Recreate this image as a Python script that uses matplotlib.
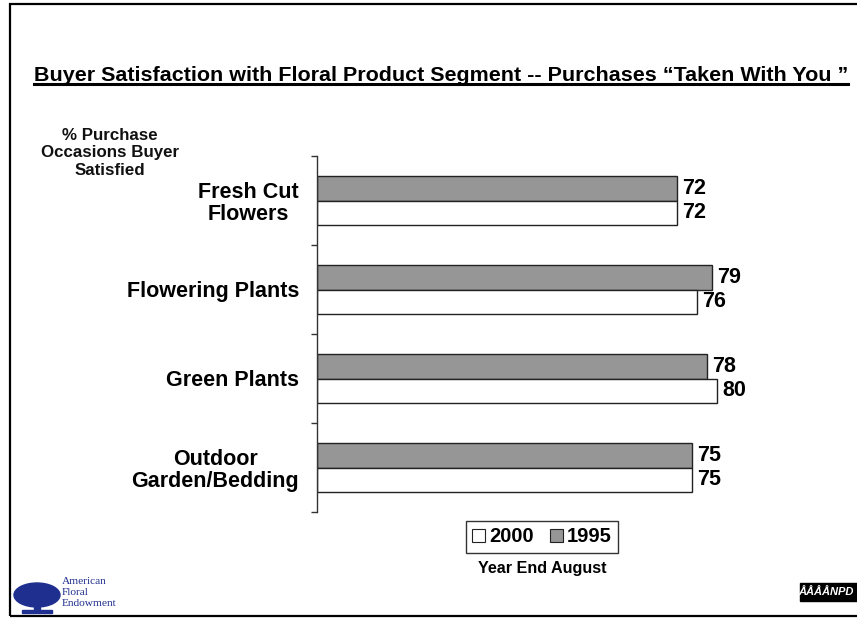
import matplotlib
matplotlib.use("Agg")
import matplotlib.pyplot as plt
from matplotlib.patches import Rectangle, Ellipse, Patch
from matplotlib.lines import Line2D
from matplotlib.ticker import FixedLocator

plt.rcParams['font.family'] = ['Liberation Sans', 'DejaVu Sans']

categories = ['Fresh Cut\nFlowers', 'Flowering Plants', 'Green Plants',
              'Outdoor\nGarden/Bedding']
vals_1995 = [72, 79, 78, 75]
vals_2000 = [72, 76, 80, 75]
series_labels = ['2000', '1995']

W, H = 857, 618


def fx(x):
    return x / W


def fy(y):
    return 1 - y / H


fig = plt.figure(figsize=(W / 100, H / 100), dpi=100)

# page frame
fig.add_artist(Rectangle((fx(10), fy(616)), fx(900) - fx(10), fy(4) - fy(616),
                         transform=fig.transFigure, fill=False,
                         edgecolor='black', linewidth=1.6, clip_on=False))

ax = fig.add_axes([fx(317), fy(512), fx(817) - fx(317), fy(156) - fy(512)])

bar_h = 0.28
pos = list(range(len(categories)))
gray = '#969696'
ax.barh([p - bar_h / 2 for p in pos], vals_1995, height=bar_h,
        color=gray, edgecolor='#222222', linewidth=1.0)
ax.barh([p + bar_h / 2 for p in pos], vals_2000, height=bar_h,
        color='white', edgecolor='#222222', linewidth=1.0)

for p, v1, v2 in zip(pos, vals_1995, vals_2000):
    ax.text(v1 + 1, p - bar_h / 2, str(v1), ha='left', va='center',
            fontsize=15.5, fontweight='bold')
    ax.text(v2 + 1, p + bar_h / 2, str(v2), ha='left', va='center',
            fontsize=15.5, fontweight='bold')

ax.set_xlim(0, 100)
ax.set_ylim(3.5, -0.5)
ax.set_yticks(pos)
ax.set_yticklabels(categories, fontsize=15.5, fontweight='bold',
                   linespacing=1.05, multialignment='center')
ax.tick_params(axis='y', which='major', length=0, pad=13)
ax.yaxis.set_minor_locator(FixedLocator([-0.5, 0.5, 1.5, 2.5, 3.5]))
ax.tick_params(axis='y', which='minor', length=4.5, width=1.0,
               color='#333333')
ax.set_xticks([])
for s in ['top', 'right', 'bottom']:
    ax.spines[s].set_visible(False)
ax.spines['left'].set_color('#333333')
ax.spines['left'].set_linewidth(1.0)

# title with underline
title = fig.text(fx(34), fy(81), 'Buyer Satisfaction with Floral Product Segment '
                 '-- Purchases \u201cTaken With You \u201d',
                 fontsize=15.45, fontweight='bold', ha='left', va='baseline')

fig.text(fx(110), fy(128), '% Purchase\nOccasions Buyer\nSatisfied',
         fontsize=12.2, fontweight='bold', ha='center', va='top',
         linespacing=1.2, color='#111111')

# legend
handles = [Patch(facecolor='white', edgecolor='#222222', linewidth=0.8),
           Patch(facecolor=gray, edgecolor='#222222', linewidth=0.8)]
leg = fig.legend(handles, series_labels, loc='center',
                 bbox_to_anchor=(fx(542), fy(537)), ncol=2,
                 prop={'weight': 'bold', 'size': 14.5}, frameon=True,
                 fancybox=False, edgecolor='black', handlelength=0.65,
                 handleheight=0.65, handletextpad=0.2, columnspacing=0.8,
                 borderpad=0.3, borderaxespad=0)
leg.get_frame().set_linewidth(1.0)

fig.text(fx(542), fy(568), 'Year End August', fontsize=11.6, fontweight='bold',
         ha='center', va='center')

# American Floral Endowment logo (approximation)
blue = '#1f2f8f'
fig.add_artist(Ellipse((fx(37), fy(595)), fx(46), fy(0) - fy(24),
                       transform=fig.transFigure, color=blue))
fig.add_artist(Rectangle((fx(34), fy(612)), fx(6), fy(0) - fy(18),
                         transform=fig.transFigure, color=blue))
fig.add_artist(Rectangle((fx(22), fy(613)), fx(30), fy(0) - fy(3),
                         transform=fig.transFigure, color=blue))
fig.text(fx(62), fy(577), 'American\nFloral\nEndowment', fontsize=8.2,
         family=['Liberation Serif', 'DejaVu Serif'], color=blue,
         ha='left', va='top', linespacing=1.3)

# NPD logo (approximation)
fig.add_artist(Rectangle((fx(800), fy(601)), fx(60), fy(0) - fy(18),
                         transform=fig.transFigure, color='black'))
fig.text(fx(854), fy(592), '\u00c5\u00c5\u00c5\u00c5NPD', fontsize=8,
         fontweight='bold', fontstyle='italic', color='white',
         ha='right', va='center')

fig.canvas.draw()
bb = title.get_window_extent()
fig.add_artist(Line2D([bb.x0 / W, bb.x1 / W], [bb.y0 / H + 0.002, bb.y0 / H + 0.002],
                      transform=fig.transFigure, color='black', linewidth=2.2))

fig.savefig('out.png', dpi=100)
